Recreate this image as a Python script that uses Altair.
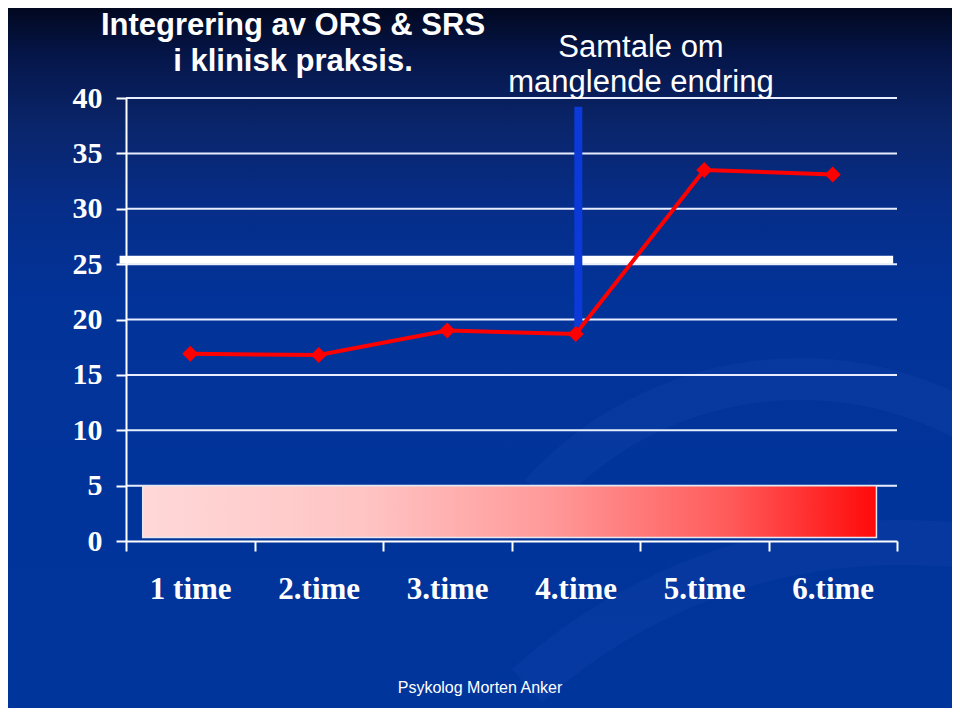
import altair as alt
import pandas as pd

# ---- data ----
sessions = ["1 time", "2.time", "3.time", "4.time", "5.time", "6.time"]
scores = [16.9, 16.8, 19.0, 18.7, 33.5, 33.1]
y_ticks = [0, 5, 10, 15, 20, 25, 30, 35, 40]
grid_values = [5, 10, 15, 20, 25, 30, 35, 40]
cutoff_value = [25.4]            # thick white line
cutoff_extent = [-0.05, 5.97]    # in session units (0..6)
talk_position = [3.52]           # blue vertical marker (session units)
talk_range = [19.3, 39.2]
bar_x = [0.13, 5.84]
bar_y = [0.32, 5.0]

title_lines = ["Integrering av ORS & SRS", "i klinisk praksis."]
note_lines = ["Samtale om", "manglende endring"]
footer_text = ["Psykolog Morten Anker"]

W, H = 771, 443
PAD = {"left": 118, "top": 90, "right": 55, "bottom": 167}

Y_SCALE = alt.Scale(domain=[0, 40], nice=False, zero=True)


def yaxis():
    return alt.Axis(values=y_ticks, title=None, grid=False, zindex=1,
                    labelFont="Liberation Serif", labelFontSize=30, labelFontWeight="bold",
                    labelColor="white", labelPadding=14, tickSize=10, tickColor="white",
                    tickWidth=2, domainColor="white", domainWidth=2)


XQ = alt.Scale(domain=[0, 6], nice=False, zero=False)

bg_grad = {"gradient": "linear", "x1": 0, "y1": 0, "x2": 0, "y2": 1,
           "stops": [{"offset": 0.0, "color": "#020820"},
                     {"offset": 0.07, "color": "#05164a"},
                     {"offset": 0.16, "color": "#0a2468"},
                     {"offset": 0.28, "color": "#062d88"},
                     {"offset": 0.42, "color": "#023399"},
                     {"offset": 1.0, "color": "#00359c"}]}

bar_grad = {"gradient": "linear", "x1": 0, "y1": 0, "x2": 1, "y2": 0,
            "stops": [{"offset": 0.0, "color": "#ffd8d8"},
                      {"offset": 0.3, "color": "#ffc4c4"},
                      {"offset": 0.55, "color": "#ff9a9a"},
                      {"offset": 0.8, "color": "#ff5a5a"},
                      {"offset": 1.0, "color": "#ff0a0a"}]}

one = pd.DataFrame({"a": [0]})

background = alt.Chart(one).mark_rect(fill=bg_grad).encode(
    x=alt.value(-PAD["left"]), x2=alt.value(W + PAD["right"]),
    y=alt.value(-PAD["top"]), y2=alt.value(H + PAD["bottom"]))

# subtle decorative swooshes of the slide background
swoosh1 = alt.Chart(one).mark_arc(
    theta=5.45, theta2=6.85, radius=330, radius2=372, color="#3a66cc", opacity=0.11
).encode(x=alt.value(674), y=alt.value(632))
swoosh2 = alt.Chart(one).mark_arc(
    theta=5.55, theta2=6.75, radius=535, radius2=580, color="#3a66cc", opacity=0.10
).encode(x=alt.value(774), y=alt.value(1002))

grid = alt.Chart(pd.DataFrame({"g": grid_values})).mark_rule(
    color="#e8eeff", strokeWidth=2).encode(
    y=alt.Y("g:Q", scale=Y_SCALE, axis=yaxis()))

bar = alt.Chart(pd.DataFrame({"x0": [bar_x[0]], "x1": [bar_x[1]],
                              "y0": [bar_y[0]], "y1": [bar_y[1]]})).mark_rect(
    fill=bar_grad, stroke="#e6e6f0", strokeWidth=1.5).encode(
    x=alt.X("x0:Q", scale=XQ, axis=None), x2="x1:Q",
    y=alt.Y("y0:Q", scale=Y_SCALE, axis=yaxis()), y2="y1:Q")

cutoff = alt.Chart(pd.DataFrame({"x0": [cutoff_extent[0]], "x1": [cutoff_extent[1]],
                                 "c": cutoff_value})).mark_rule(
    color="white", strokeWidth=8).encode(
    x=alt.X("x0:Q", scale=XQ, axis=None), x2="x1:Q",
    y=alt.Y("c:Q", scale=Y_SCALE, axis=yaxis()))

talk = alt.Chart(pd.DataFrame({"p": talk_position, "y0": [talk_range[0]],
                               "y1": [talk_range[1]]})).mark_rule(
    color="#0b3ad8", strokeWidth=8).encode(
    x=alt.X("p:Q", scale=XQ, axis=None),
    y=alt.Y("y0:Q", scale=Y_SCALE, axis=yaxis()), y2="y1:Q")

line = alt.Chart(pd.DataFrame({"session": sessions, "score": scores})).mark_line(
    color="#ff0000", strokeWidth=4,
    point=alt.OverlayMarkDef(shape="diamond", size=256, filled=True, color="#ff0000", opacity=1)
).encode(
    x=alt.X("session:N", sort=sessions,
            scale=alt.Scale(type="band", paddingInner=0, paddingOuter=0),
            axis=alt.Axis(title=None, tickBand="extent", labelAngle=0, grid=False, zindex=1,
                          labelFont="Liberation Serif", labelFontSize=31,
                          labelFontWeight="bold", labelColor="white",
                          labelBaseline="alphabetic", labelPadding=47,
                          tickSize=10, tickColor="white", tickWidth=2,
                          domainColor="white", domainWidth=2)),
    y=alt.Y("score:Q", scale=Y_SCALE, axis=yaxis()))


def text_layer(txt, x, y, font, size, weight="normal"):
    return alt.Chart(pd.DataFrame({"t": [txt]})).mark_text(
        font=font, fontSize=size, fontWeight=weight, color="white",
        align="center", baseline="alphabetic").encode(
        text="t:N", x=alt.value(x), y=alt.value(y))


texts = [
    text_layer(title_lines[0], 167, -63, "Liberation Sans", 31, "bold"),
    text_layer(title_lines[1], 167, -27, "Liberation Sans", 31, "bold"),
    text_layer(note_lines[0], 515, -41, "Liberation Sans", 31),
    text_layer(note_lines[1], 515, -6, "Liberation Sans", 31),
    text_layer(footer_text[0], 354, 595, "Liberation Sans", 16),
]

chart = alt.layer(background, swoosh1, swoosh2, grid, bar, cutoff, talk, line, *texts).resolve_scale(
    x="independent"
).properties(
    width=W, height=H,
    autosize=alt.AutoSizeParams(type="none"),
    padding=PAD,
).configure_view(stroke="white", strokeWidth=1.5)

chart.save("out.html", embed_options={"renderer": "svg", "actions": False})
